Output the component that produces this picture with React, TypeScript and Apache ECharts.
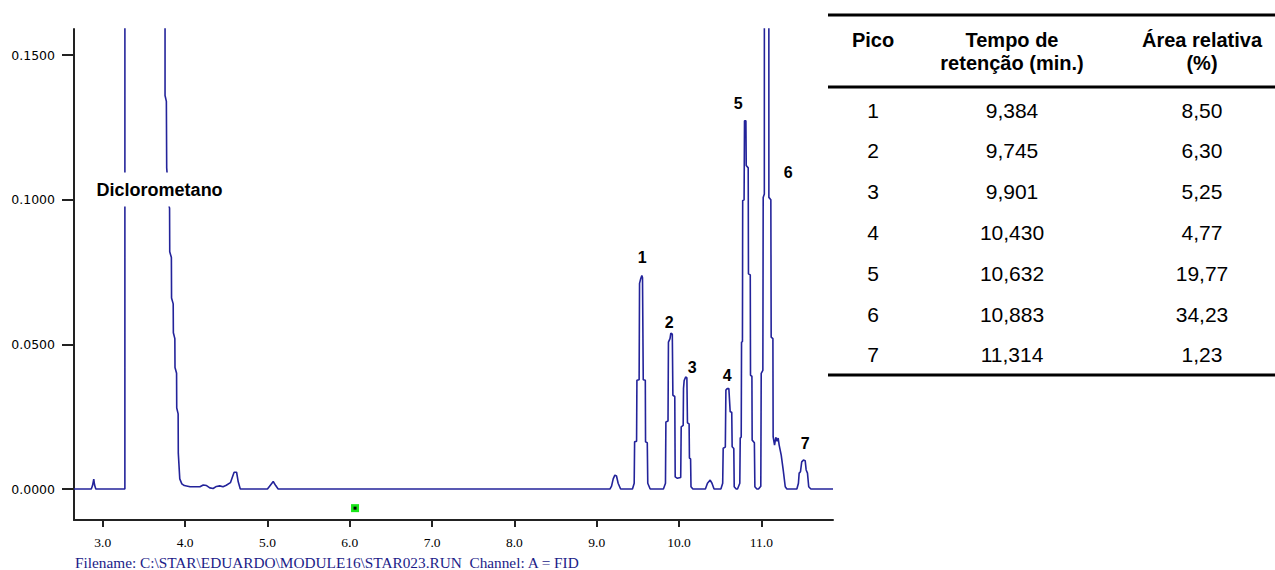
import React, { useEffect, useRef } from "react";
import * as echarts from "echarts";

// Chromatogram trace: [retention time (min), detector signal]
const chromatogram: [number, number][] = [
  [2.65, 0], [2.86, 0], [2.875, 0.0012], [2.89, 0.0034], [2.9, 0.0014], [2.915, 0],
  [3.268, 0], [3.27, 0.95], [3.754, 0.95], [3.756, 0.136], [3.772, 0.134], [3.776, 0.111],
  [3.794, 0.104], [3.796, 0.099], [3.811, 0.097], [3.813, 0.082], [3.833, 0.08], [3.835, 0.066],
  [3.855, 0.064], [3.857, 0.054], [3.875, 0.052], [3.877, 0.042], [3.896, 0.04], [3.898, 0.028],
  [3.915, 0.026], [3.917, 0.0124], [3.935, 0.0035], [3.96, 0.0018], [3.99, 0.0012], [4.06, 0.0008],
  [4.18, 0.0008], [4.22, 0.0014], [4.26, 0.0012], [4.3, 0.0004], [4.34, 0.0002], [4.38, 0.0009],
  [4.42, 0.0011], [4.46, 0.0008], [4.5, 0.0013], [4.55, 0.0022], [4.595, 0.0058], [4.625, 0.0058],
  [4.645, 0.0025], [4.67, 0], [5.0, 0], [5.04, 0.0015], [5.07, 0.0026], [5.1, 0.0012], [5.13, 0],
  [9.16, 0], [9.18, 0.001], [9.2, 0.0035], [9.22, 0.0048], [9.24, 0.0045], [9.26, 0.002], [9.29, 0],
  // peak 1
  [9.434, 0], [9.455, 0.002], [9.46, 0.0163], [9.484, 0.0165], [9.488, 0.0376], [9.515, 0.0378],
  [9.52, 0.0711], [9.535, 0.0728], [9.548, 0.0738], [9.556, 0.073], [9.565, 0.0378], [9.59, 0.0376],
  [9.593, 0.0163], [9.614, 0.016], [9.62, 0.002], [9.649, 0],
  // peak 2
  [9.81, 0], [9.835, 0.002], [9.84, 0.0232], [9.866, 0.0235], [9.871, 0.0508], [9.89, 0.052],
  [9.9, 0.0539], [9.918, 0.0535], [9.925, 0.0324], [9.948, 0.032], [9.953, 0.0042], [9.98, 0.0037],
  // peak 3
  [9.99, 0.0038], [10.02, 0.004], [10.026, 0.0215], [10.05, 0.022], [10.054, 0.0348], [10.062, 0.0375],
  [10.08, 0.0387], [10.095, 0.0385], [10.102, 0.0229], [10.122, 0.0225], [10.126, 0.0107], [10.14, 0.0104],
  [10.145, 0.0008], [10.168, 0],
  // small bump
  [10.32, 0], [10.345, 0.002], [10.378, 0.0031], [10.4, 0.002], [10.425, 0],
  // peak 4
  [10.508, 0], [10.53, 0.002], [10.536, 0.0141], [10.562, 0.0145], [10.569, 0.0342], [10.585, 0.0347],
  [10.605, 0.0347], [10.621, 0.0267], [10.64, 0.0265], [10.645, 0.0146], [10.665, 0.014], [10.67, 0.0008],
  [10.694, 0],
  // peak 5
  [10.71, 0], [10.738, 0.002], [10.743, 0.0176], [10.755, 0.018], [10.759, 0.0508], [10.77, 0.051],
  [10.773, 0.0997], [10.79, 0.1], [10.795, 0.1273], [10.812, 0.1273], [10.816, 0.1118], [10.84, 0.111],
  [10.843, 0.0744], [10.865, 0.074], [10.868, 0.0393], [10.885, 0.039], [10.888, 0.0169], [10.915, 0.016],
  [10.921, 0.0008], [10.945, 0], [10.965, 0],
  // peak 6
  [10.993, 0.001], [10.998, 0.04], [11.018, 0.041], [11.022, 0.1008], [11.036, 0.102], [11.04, 0.95],
  [11.088, 0.95], [11.091, 0.1008], [11.115, 0.1], [11.119, 0.0525], [11.14, 0.052], [11.143, 0.018],
  [11.16, 0.0152], [11.175, 0.0179], [11.19, 0.0165], [11.204, 0.0176], [11.216, 0.0152], [11.241, 0.0117],
  [11.265, 0.0066], [11.29, 0.0008], [11.31, 0],
  // peak 7
  [11.431, 0], [11.45, 0.002], [11.459, 0.0055], [11.475, 0.006], [11.49, 0.0094], [11.511, 0.01],
  [11.532, 0.0098], [11.544, 0.0066], [11.56, 0.0055], [11.575, 0.0008], [11.601, 0], [11.87, 0],
];

const peakNames = ["1", "2", "3", "4", "5", "6", "7"];
const peakLabelPos: [number, number][] = [
  [9.552, 0.08], [9.88, 0.0576], [10.16, 0.0421], [10.585, 0.0393],
  [10.718, 0.1332], [11.325, 0.1094], [11.532, 0.0159],
];
const solventName = "Diclorometano";
const solventLabelPos: [number, number] = [3.69, 0.1035];
const injectionMark: [number, number] = [6.064, -0.0066];

const xTicks = [3, 4, 5, 6, 7, 8, 9, 10, 11];
const yTicks = [0, 0.05, 0.1, 0.15];

const fileCaption = "Filename: C:\\STAR\\EDUARDO\\MODULE16\\STAR023.RUN  Channel: A = FID";

// Table
const headerPico = ["Pico"];
const headerTempo = ["Tempo de", "retenção (min.)"];
const headerArea = ["Área relativa", "(%)"];
const picos = ["1", "2", "3", "4", "5", "6", "7"];
const tempos = ["9,384", "9,745", "9,901", "10,430", "10,632", "10,883", "11,314"];
const areas = ["8,50", "6,30", "5,25", "4,77", "19,77", "34,23", "1,23"];

export default function App() {
  const ref = useRef<HTMLDivElement>(null);

  useEffect(() => {
    if (!ref.current) return;
    const chart = echarts.init(ref.current, null, { renderer: "svg" });

    const tblLeft = 828;
    const tblRight = 1275;
    const colX = [873, 1012, 1202];
    const rowY0 = 110;
    const rowStep = 40.8;
    const headFont = "Liberation Sans, Arial, sans-serif";

    const txt = (text: string, x: number, y: number, size: number, bold: boolean) => ({
      type: "text",
      x,
      y,
      silent: true,
      style: {
        text,
        fill: "#000",
        fontSize: size,
        fontWeight: bold ? "bold" : "normal",
        fontFamily: headFont,
        align: "center",
        verticalAlign: "middle",
        textAlign: "center",
        textVerticalAlign: "middle",
      },
    });

    const graphics: any[] = [
      { type: "line", shape: { x1: tblLeft, y1: 15, x2: tblRight, y2: 15 }, style: { stroke: "#000", lineWidth: 3 } },
      { type: "line", shape: { x1: tblLeft, y1: 87, x2: tblRight, y2: 87 }, style: { stroke: "#000", lineWidth: 3 } },
      { type: "line", shape: { x1: tblLeft, y1: 375, x2: tblRight, y2: 375 }, style: { stroke: "#000", lineWidth: 3 } },
    ];
    headerPico.forEach((t, i) => graphics.push(txt(t, colX[0], 40 + i * 23, 20, true)));
    headerTempo.forEach((t, i) => graphics.push(txt(t, colX[1], 40 + i * 23, 20, true)));
    headerArea.forEach((t, i) => graphics.push(txt(t, colX[2], 40 + i * 23, 20, true)));
    picos.forEach((p, i) => {
      const y = rowY0 + i * rowStep;
      graphics.push(txt(p, colX[0], y, 21, false));
      graphics.push(txt(tempos[i], colX[1], y, 21, false));
      graphics.push(txt(areas[i], colX[2], y, 21, false));
    });
    graphics.push({
      type: "text",
      x: 75,
      y: 562,
      silent: true,
      style: {
        text: fileCaption,
        fill: "#1c1c88",
        fontSize: 15.3,
        fontFamily: "Liberation Serif, Times New Roman, serif",
        verticalAlign: "middle",
        textVerticalAlign: "middle",
      },
    });

    chart.setOption({
      animation: false,
      backgroundColor: "#ffffff",
      grid: { left: 74, top: 29, width: 759, height: 491, containLabel: false, outerBoundsMode: "none" },
      xAxis: {
        type: "value",
        min: 2.65,
        max: 11.87,
        axisLine: { show: true, onZero: false, lineStyle: { color: "#222", width: 2 } },
        axisTick: { show: true, customValues: xTicks, length: 7, lineStyle: { color: "#222", width: 2 } },
        axisLabel: {
          customValues: xTicks,
          formatter: (v: number) => v.toFixed(1),
          fontFamily: "Liberation Serif, Times New Roman, serif",
          fontSize: 13.5,
          color: "#000",
          margin: 15,
        },
        splitLine: { show: false },
      },
      yAxis: {
        type: "value",
        min: -0.0107,
        max: 0.159,
        axisLine: { show: true, onZero: false, lineStyle: { color: "#222", width: 2 } },
        axisTick: { show: true, customValues: yTicks, length: 12, lineStyle: { color: "#222", width: 2 } },
        axisLabel: {
          customValues: yTicks,
          formatter: (v: number) => v.toFixed(4),
          fontFamily: "DejaVu Sans, sans-serif",
          fontSize: 12.5,
          color: "#000",
          margin: 19,
        },
        splitLine: { show: false },
      },
      series: [
        {
          type: "line",
          data: chromatogram,
          showSymbol: false,
          symbol: "none",
          clip: true,
          silent: true,
          lineStyle: { color: "#23239a", width: 1.6 },
          z: 2,
        },
        {
          type: "scatter",
          silent: true,
          symbolSize: 0,
          z: 6,
          itemStyle: { opacity: 1 },
          data: peakNames.map((n, i) => ({ name: n, value: peakLabelPos[i] })),
          label: {
            show: true,
            position: "inside",
            formatter: "{b}",
            fontFamily: "Liberation Sans, Arial, sans-serif",
            fontWeight: "bold",
            fontSize: 16,
            color: "#000",
            opacity: 1,
          },
        },
        {
          type: "scatter",
          silent: true,
          symbolSize: 0,
          z: 6,
          itemStyle: { opacity: 1 },
          data: [{ name: solventName, value: solventLabelPos }],
          label: {
            show: true,
            position: "inside",
            formatter: "{b}",
            fontFamily: "Liberation Sans, Arial, sans-serif",
            fontWeight: "bold",
            fontSize: 18,
            color: "#000",
            opacity: 1,
            backgroundColor: "#ffffff",
            padding: [12, 3, 4, 3],
          },
        },
        {
          type: "scatter",
          silent: true,
          symbol: "rect",
          symbolSize: 8,
          z: 5,
          itemStyle: { color: "#19e619", opacity: 1 },
          data: [injectionMark],
        },
        {
          type: "scatter",
          silent: true,
          symbol: "rect",
          symbolSize: 3,
          z: 6,
          itemStyle: { color: "#000", opacity: 1 },
          data: [injectionMark],
        },
      ],
      graphic: graphics,
    });

    return () => chart.dispose();
  }, []);

  return (
    <div
      ref={ref}
      style={{ position: "absolute", left: 0, top: 0, width: 1275, height: 570, background: "#fff" }}
    />
  );
}
